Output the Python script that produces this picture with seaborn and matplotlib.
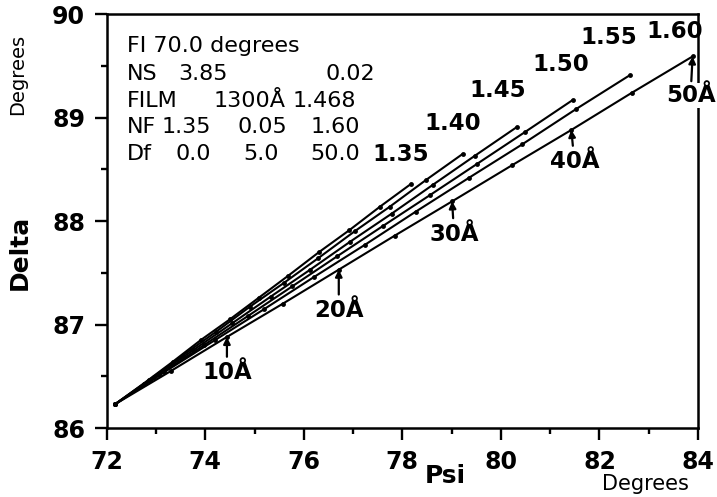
#%%
# import module/libary
import matplotlib
matplotlib.use("Agg")
import matplotlib.pyplot as plt
from matplotlib.ticker import MultipleLocator
import seaborn as sns
import pandas as pd

#%%
# film thickness steps (Angstrom) and film index of each curve
thickness = [0, 5, 10, 15, 20, 25, 30, 35, 40, 45, 50]
nf_values = ["1.35", "1.40", "1.45", "1.50", "1.55", "1.60"]

# Psi / Delta, one pair per film index
psi_135 = [72.17, 72.75, 73.34, 73.91, 74.50, 75.09, 75.68, 76.31, 76.92, 77.55, 78.18]
delta_135 = [86.23, 86.43, 86.64, 86.85, 87.05, 87.26, 87.47, 87.70, 87.91, 88.14, 88.36]
psi_140 = [72.17, 72.85, 73.54, 74.22, 74.90, 75.59, 76.29, 77.03, 77.75, 78.49, 79.23]
delta_140 = [86.23, 86.46, 86.70, 86.93, 87.17, 87.40, 87.64, 87.90, 88.14, 88.40, 88.65]
psi_145 = [72.17, 72.95, 73.75, 74.54, 75.33, 76.13, 76.94, 77.78, 78.62, 79.47, 80.33]
delta_145 = [86.23, 86.49, 86.75, 87.01, 87.27, 87.53, 87.80, 88.07, 88.35, 88.63, 88.91]
psi_150 = [72.17, 73.06, 73.97, 74.86, 75.77, 76.68, 77.60, 78.56, 79.51, 80.49, 81.46]
delta_150 = [86.23, 86.51, 86.80, 87.08, 87.37, 87.66, 87.95, 88.25, 88.55, 88.86, 89.17]
psi_155 = [72.17, 73.17, 74.20, 75.20, 76.21, 77.24, 78.27, 79.36, 80.43, 81.52, 82.62]
delta_155 = [86.23, 86.54, 86.85, 87.15, 87.46, 87.77, 88.09, 88.42, 88.74, 89.08, 89.41]
psi_160 = [72.17, 73.30, 74.44, 75.57, 76.71, 77.85, 79.01, 80.23, 81.43, 82.66, 83.89]
delta_160 = [86.23, 86.55, 86.88, 87.20, 87.53, 87.86, 88.19, 88.54, 88.88, 89.24, 89.59]

# thickness marks with arrows (on the 1.60 curve)
arrow_thickness = [10, 20, 30, 40, 50]

# parameter block, rows of text
info_rows = [
    ["FI 70.0 degrees"],
    ["NS", "3.85", "0.02"],
    ["FILM", "1300Å", "1.468"],
    ["NF", "1.35", "0.05", "1.60"],
    ["Df", "0.0", "5.0", "50.0"],
]

#%%
rows = []
psi_all = [psi_135, psi_140, psi_145, psi_150, psi_155, psi_160]
delta_all = [delta_135, delta_140, delta_145, delta_150, delta_155, delta_160]
for nf, psi, delta in zip(nf_values, psi_all, delta_all):
    for t, p, d in zip(thickness, psi, delta):
        rows.append({"nf": nf, "d": t, "psi": p, "delta": d})
df = pd.DataFrame(rows)

sns.set_style("ticks")
plt.rcParams['font.family'] = ['DejaVu Sans']
plt.rcParams['text.color'] = 'black'
plt.rcParams['axes.labelcolor'] = 'black'
plt.rcParams['axes.edgecolor'] = 'black'
plt.rcParams['xtick.color'] = 'black'
plt.rcParams['ytick.color'] = 'black'

fig = plt.figure(figsize=(7.17, 4.97), dpi=100)
ax = fig.add_axes([0.1488, 0.1388, 0.8247, 0.8330])

sns.lineplot(data=df, x="psi", y="delta", hue="nf", palette=["black"] * 6,
             estimator=None, sort=False, marker="o", markersize=3.5,
             markeredgewidth=0, linewidth=1.5, legend=False, ax=ax)

ax.set_xlim(72, 84)
ax.set_ylim(86, 90)
ax.xaxis.set_major_locator(MultipleLocator(2))
ax.xaxis.set_minor_locator(MultipleLocator(1))
ax.yaxis.set_major_locator(MultipleLocator(1))
ax.yaxis.set_minor_locator(MultipleLocator(0.5))
ax.set_xlabel("")
ax.set_ylabel("")
for s in ax.spines.values():
    s.set_linewidth(1.8)
ax.tick_params(which="major", direction="out", length=8.5, width=1.7,
               labelsize=17)
ax.tick_params(axis="x", which="major", pad=7)
ax.tick_params(axis="y", which="major", pad=7)
ax.tick_params(which="minor", direction="out", length=4.5, width=1.7)
for lbl in ax.get_xticklabels() + ax.get_yticklabels():
    lbl.set_fontweight("bold")

# curve labels
nf_label_pos = [(77.97, 88.64), (79.02, 88.94), (79.94, 89.26),
                (81.21, 89.51), (82.19, 89.77), (83.52, 89.83)]
for nf, (lx, ly) in zip(nf_values, nf_label_pos):
    ax.text(lx, ly, nf, fontsize=16.5, fontweight="bold", ha="center", va="center")

# thickness arrows
arrow_offsets = [(0, -36), (0, -41), (2, -33), (3, -32), (-2, -39)]
for t, (ox, oy) in zip(arrow_thickness, arrow_offsets):
    i = thickness.index(t)
    bbox = dict(facecolor="white", edgecolor="none", pad=1) if t == 50 else None
    ax.annotate(f"{t}Å", xy=(psi_160[i], delta_160[i]), xytext=(ox, oy),
                textcoords="offset pixels", ha="center", va="center",
                fontsize=16.5, fontweight="bold", bbox=bbox,
                arrowprops=dict(arrowstyle="-|>", color="black", lw=1.6,
                                mutation_scale=10, shrinkA=1, shrinkB=0))

# parameter block
col_x = [
    [72.41],
    [72.41, 73.45, 76.44],
    [72.41, 74.16, 75.77],
    [72.41, 73.12, 74.65, 76.13],
    [72.41, 73.39, 74.77, 76.13],
]
row_y = [89.635, 89.362, 89.103, 88.846, 88.588]
for texts, xs, y in zip(info_rows, col_x, row_y):
    for s, x in zip(texts, xs):
        ax.text(x, y, s, fontsize=16, ha="left", va="baseline")

# axis titles
fig.text(0.025, 0.851, "Degrees", rotation=90, fontsize=14, ha="center", va="center")
fig.text(0.027, 0.493, "Delta", rotation=90, fontsize=18, fontweight="bold",
         ha="center", va="center")
fig.text(0.6206, 0.0423, "Psi", fontsize=18, fontweight="bold", ha="center", va="center")
fig.text(0.8996, 0.014, "Degrees", fontsize=15, ha="center", va="baseline")

plt.savefig("out.png", dpi=100)
